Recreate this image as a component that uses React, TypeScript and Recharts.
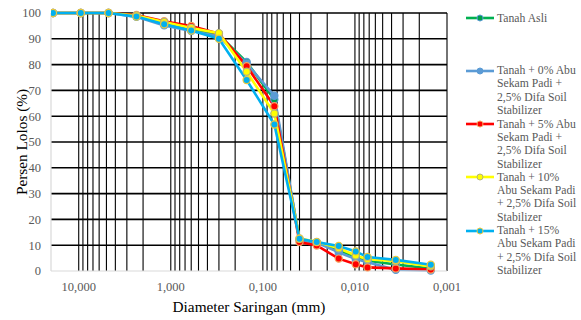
import React from 'react';
import { LineChart, Line, XAxis, YAxis, ReferenceLine } from 'recharts';

// Sieve / hydrometer diameters (mm)
const diameters = [19.05, 9.5, 4.75, 2.36, 1.18, 0.6, 0.3, 0.15, 0.075, 0.04, 0.026, 0.015, 0.0098, 0.0073, 0.0036, 0.0015];

// Percent passing per series
const tanahAsli = [100, 100, 100, 99.0, 96.2, 94.0, 91.5, 81.0, 66.5, 12.2, 11.0, 8.0, 5.5, 4.0, 2.5, 1.0];
const abu0 = [100, 100, 100, 98.5, 95.2, 93.0, 91.0, 80.4, 67.9, 12.0, 11.0, 7.2, 4.6, 3.4, 0.5, 0.2];
const abu5 = [100, 100, 100, 99.2, 96.8, 95.0, 92.0, 79.4, 63.9, 11.2, 9.9, 4.8, 2.6, 1.4, 1.0, 0.6];
const abu10 = [100, 100, 100, 99.0, 96.5, 94.2, 92.2, 77.2, 61.0, 12.6, 11.3, 8.8, 6.0, 4.6, 3.8, 1.8];
const abu15 = [100, 100, 100, 98.6, 95.6, 93.2, 90.0, 74.0, 56.8, 12.5, 11.2, 9.7, 7.6, 5.4, 4.3, 2.4];

// Axis ticks
const xTicks = [10, 1, 0.1, 0.01, 0.001];
const yTicks = [0, 10, 20, 30, 40, 50, 60, 70, 80, 90, 100];
const decades = [0.001, 0.01, 0.1, 1, 10];
const multiples = [1, 2, 3, 4, 5, 6, 7, 8, 9];

const legendItems = [
  { key: 'asli', lines: ['Tanah Asli'] },
  { key: 'p0', lines: ['Tanah + 0% Abu', 'Sekam Padi +', '2,5% Difa Soil', 'Stabilizer'] },
  { key: 'p5', lines: ['Tanah + 5% Abu', 'Sekam Padi +', '2,5% Difa Soil', 'Stabilizer'] },
  { key: 'p10', lines: ['Tanah + 10%', 'Abu Sekam Padi', '+ 2,5% Difa Soil', 'Stabilizer'] },
  { key: 'p15', lines: ['Tanah + 15%', 'Abu Sekam Padi', '+ 2,5% Difa Soil', 'Stabilizer'] },
];

const styles: Record<string, { line: string; fill: string; stroke: string }> = {
  asli: { line: '#00b050', fill: '#00a04a', stroke: '#5b9bd5' },
  p0: { line: '#5b9bd5', fill: '#5b9bd5', stroke: '#5b9bd5' },
  p5: { line: '#ff0000', fill: '#ff0000', stroke: '#f4a460' },
  p10: { line: '#ffff00', fill: '#ffff00', stroke: '#b4b47a' },
  p15: { line: '#00b0f0', fill: '#00b0f0', stroke: '#e8c840' },
};

const rows = diameters.map((d, i) => ({
  d,
  asli: tanahAsli[i],
  p0: abu0[i],
  p5: abu5[i],
  p10: abu10[i],
  p15: abu15[i],
}));

const vGrid: number[] = [];
decades.forEach((dec) => {
  multiples.forEach((m) => {
    const v = +(dec * m).toPrecision(3);
    if (v <= 10) vGrid.push(v);
  });
});
const hGrid = yTicks.filter((v) => v > 0);

const FONT = "'Liberation Serif', 'DejaVu Serif', serif";

const fmtX = (v: number) => v.toFixed(3).replace('.', ',');

export default function App() {
  const seriesKeys = ['asli', 'p0', 'p5', 'p10', 'p15'];
  const legendTop = [18.3, 70.7, 124.3, 177.3, 230.7];
  return (
    <div style={{ position: 'absolute', left: 0, top: 0, width: 581, height: 320, background: '#fff', fontFamily: FONT, overflow: 'hidden' }}>
      <LineChart width={581} height={320} data={rows} margin={{ top: 13, right: 134, bottom: 19, left: 21 }} style={{ fontFamily: FONT }}>
        {vGrid.map((v) => (
          <ReferenceLine key={'v' + v} x={v} stroke="#000" strokeWidth={1.1} />
        ))}
        {hGrid.map((v) => (
          <ReferenceLine key={'h' + v} y={v} stroke="#000" strokeWidth={1.6} />
        ))}
        <XAxis
          dataKey="d"
          type="number"
          scale="log"
          domain={[0.001, 20]}
          allowDataOverflow
          reversed
          ticks={xTicks}
          tickFormatter={fmtX}
          height={30}
          tickLine={false}
          tickSize={9}
          tickMargin={2}
          axisLine={{ stroke: '#d9d9d9', strokeWidth: 1.2 }}
          tick={{ fill: '#595959', fontSize: 12.5, fontFamily: FONT }}
          interval={0}
        />
        <YAxis
          type="number"
          domain={[0, 100]}
          ticks={yTicks}
          width={30}
          tickLine={false}
          tickSize={8}
          tickMargin={2}
          axisLine={{ stroke: '#d9d9d9', strokeWidth: 1.2 }}
          tick={{ fill: '#595959', fontSize: 12.5, fontFamily: FONT }}
          interval={0}
        />
        {seriesKeys.map((k) => (
          <Line
            key={k}
            type="linear"
            dataKey={k}
            stroke={styles[k].line}
            strokeWidth={2.6}
            dot={{ r: 3.6, fill: styles[k].fill, stroke: styles[k].stroke, strokeWidth: 1.2 }}
            isAnimationActive={false}
          />
        ))}
      </LineChart>

      <div style={{ position: 'absolute', left: 21.5, top: 142, transform: 'translate(-50%, -50%) rotate(-90deg)', whiteSpace: 'nowrap', fontSize: 15.3, color: '#000', lineHeight: '18px' }}>
        Persen Lolos (%)
      </div>
      <div style={{ position: 'absolute', left: 249, top: 306.5, transform: 'translate(-50%, -50%)', whiteSpace: 'nowrap', fontSize: 15.3, color: '#000', lineHeight: '18px' }}>
        Diameter Saringan (mm)
      </div>

      {legendItems.map((it, i) => (
        <div key={it.key} style={{ position: 'absolute', left: 0, top: legendTop[i] }}>
          <svg style={{ position: 'absolute', left: 464, top: -5 }} width={32} height={10}>
            <line x1={2} y1={5} x2={30} y2={5} stroke={styles[it.key].line} strokeWidth={2.6} />
            <circle cx={16} cy={5} r={3} fill={styles[it.key].fill} stroke={styles[it.key].stroke} strokeWidth={1} />
          </svg>
          <div style={{ position: 'absolute', left: 497, top: -6.65, fontSize: 11.7, lineHeight: '13.3px', color: '#595959', whiteSpace: 'nowrap' }}>
            {it.lines.map((l, j) => (
              <div key={j}>{l}</div>
            ))}
          </div>
        </div>
      ))}
    </div>
  );
}
